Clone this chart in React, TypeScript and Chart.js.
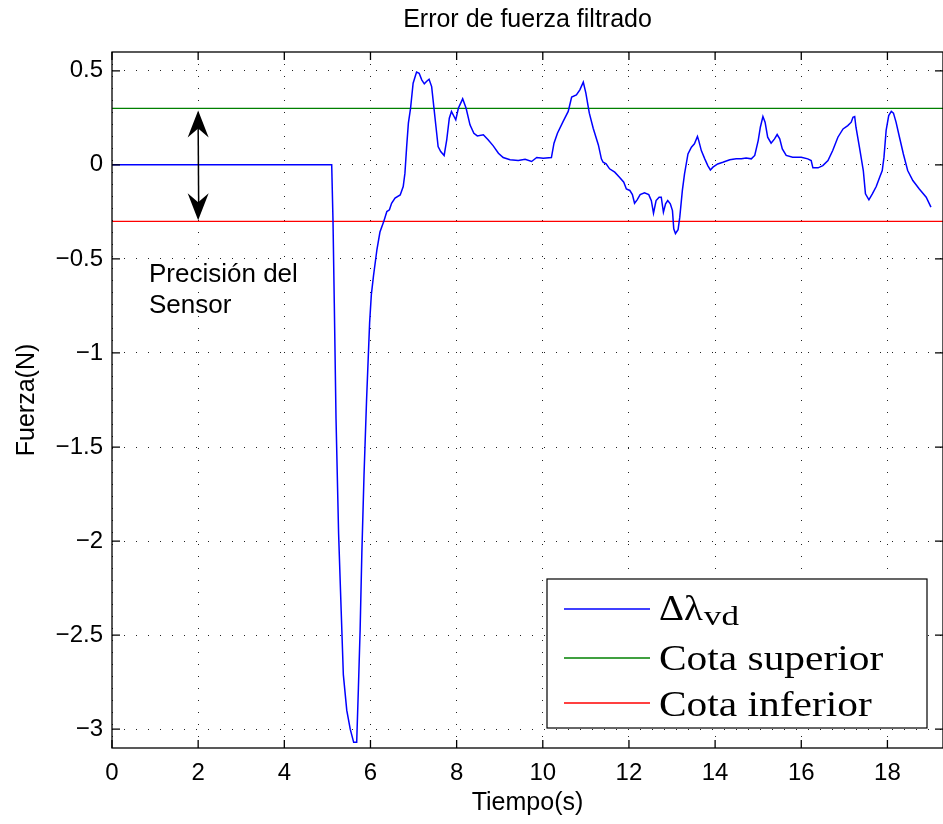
import React, { useEffect, useRef } from 'react';
import { Chart, registerables } from 'chart.js';

Chart.register(...registerables);

// ---------------- data ----------------
const timeSeconds = [
  0, 5.10, 5.13, 5.16, 5.20, 5.26, 5.32, 5.37, 5.45, 5.53,
  5.61, 5.68, 5.72, 5.76, 5.80, 5.85, 5.91, 5.98, 6.02, 6.07,
  6.15, 6.22, 6.31, 6.38, 6.44, 6.49, 6.57, 6.69, 6.76, 6.80,
  6.84, 6.88, 6.93, 6.99, 7.07, 7.13, 7.19, 7.25, 7.30, 7.36,
  7.42, 7.47, 7.52, 7.57, 7.63, 7.71, 7.77, 7.83, 7.88, 7.94,
  7.98, 8.04, 8.14, 8.22, 8.31, 8.40, 8.48, 8.62, 8.73, 8.85,
  8.97, 9.08, 9.24, 9.43, 9.59, 9.74, 9.86, 10.01, 10.20, 10.26,
  10.34, 10.47, 10.59, 10.67, 10.78, 10.86, 10.94, 11.00, 11.08, 11.17,
  11.29, 11.36, 11.40, 11.47, 11.55, 11.67, 11.78, 11.88, 11.94, 12.02,
  12.08, 12.13, 12.19, 12.26, 12.36, 12.46, 12.52, 12.57, 12.63, 12.70,
  12.75, 12.80, 12.85, 12.90, 12.96, 13.01, 13.04, 13.08, 13.14, 13.18,
  13.24, 13.29, 13.37, 13.45, 13.52, 13.59, 13.62, 13.68, 13.76, 13.83,
  13.89, 13.95, 14.06, 14.18, 14.34, 14.49, 14.61, 14.72, 14.84, 14.92,
  15.00, 15.05, 15.11, 15.16, 15.22, 15.30, 15.38, 15.44, 15.50, 15.56,
  15.65, 15.80, 16.00, 16.15, 16.23, 16.27, 16.39, 16.50, 16.62, 16.73,
  16.85, 16.97, 17.08, 17.16, 17.20, 17.24, 17.27, 17.35, 17.44, 17.49,
  17.57, 17.65, 17.74, 17.82, 17.88, 17.92, 17.97, 18.03, 18.09, 18.14,
  18.20, 18.28, 18.37, 18.47, 18.59, 18.74, 18.90, 19.01,
];

const forceError = [
  0, 0, -0.296, -0.735, -1.347, -1.96, -2.37, -2.71, -2.90, -3.0,
  -3.07, -3.07, -2.78, -2.47, -2.06, -1.65, -1.245, -0.84, -0.69, -0.59,
  -0.45, -0.357, -0.30, -0.248, -0.239, -0.204, -0.177, -0.16, -0.115, -0.044,
  0.097, 0.222, 0.30, 0.434, 0.493, 0.487, 0.452, 0.431, 0.443, 0.455,
  0.416, 0.31, 0.204, 0.097, 0.071, 0.05, 0.133, 0.248, 0.284, 0.257,
  0.239, 0.301, 0.351, 0.301, 0.213, 0.168, 0.154, 0.16, 0.133, 0.101,
  0.062, 0.039, 0.027, 0.023, 0.03, 0.018, 0.039, 0.035, 0.039, 0.115,
  0.168, 0.23, 0.284, 0.36, 0.372, 0.399, 0.44, 0.381, 0.275, 0.195,
  0.106, 0.032, 0.014, 0.005, -0.021, -0.039, -0.066, -0.092, -0.128, -0.136,
  -0.158, -0.204, -0.186, -0.158, -0.149, -0.158, -0.19, -0.257, -0.19, -0.172,
  -0.172, -0.252, -0.207, -0.19, -0.207, -0.243, -0.34, -0.365, -0.345, -0.278,
  -0.136, -0.048, 0.058, 0.094, 0.112, 0.151, 0.129, 0.076, 0.032, -0.004,
  -0.027, -0.012, 0.005, 0.014, 0.027, 0.032, 0.032, 0.037, 0.032, 0.05,
  0.129, 0.20, 0.257, 0.227, 0.147, 0.115, 0.138, 0.161, 0.138, 0.085,
  0.05, 0.041, 0.041, 0.032, 0.023, -0.016, -0.016, -0.004, 0.023, 0.076,
  0.147, 0.191, 0.209, 0.227, 0.253, 0.257, 0.20, 0.094, -0.03, -0.154,
  -0.186, -0.154, -0.115, -0.066, -0.03, 0.041, 0.183, 0.262, 0.284, 0.275,
  0.227, 0.147, 0.058, -0.03, -0.083, -0.128, -0.172, -0.225,
];

const upperBound = 0.3;
const lowerBound = -0.3;
const boundSpan = [0, 19.29];

const xTicks = [0, 2, 4, 6, 8, 10, 12, 14, 16, 18];
const yTicks = [0.5, 0, -0.5, -1, -1.5, -2, -2.5, -3];
const xRange = [0, 19.29];
const yRange = [-3.1, 0.6];

const titleText = 'Error de fuerza filtrado';
const xLabelText = 'Tiempo(s)';
const yLabelText = 'Fuerza(N)';
const noteLines = ['Precisión del', 'Sensor'];
const arrowAtX = 2;
const legendNames = ['Δλ', 'Cota superior', 'Cota inferior'];
const legendSub = 'vd';

// ---------------- style ----------------
const SANS = '"Liberation Sans", Arial, Helvetica, sans-serif';
const SERIF = '"Liberation Serif", "Times New Roman", serif';
const BLUE = '#0000ff';
const GREEN = '#008000';
const RED = '#ff0000';

const fmt = (v: number) => (v < 0 ? '\u2212' : '') + String(Math.abs(v));

const decorPlugin = {
  id: 'matlabDecor',
  afterDraw(chart: any) {
    const { ctx, chartArea: a } = chart;
    const xs = chart.scales.x;
    const ys = chart.scales.y;
    ctx.save();

    // frame
    ctx.strokeStyle = '#000';
    ctx.lineWidth = 1.3;
    ctx.strokeRect(a.left, a.top, a.right - a.left, a.bottom - a.top);

    // inner tick marks
    ctx.beginPath();
    xTicks.forEach((v) => {
      const px = xs.getPixelForValue(v);
      ctx.moveTo(px, a.bottom); ctx.lineTo(px, a.bottom - 8);
      ctx.moveTo(px, a.top); ctx.lineTo(px, a.top + 8);
    });
    yTicks.forEach((v) => {
      const py = ys.getPixelForValue(v);
      ctx.moveTo(a.left, py); ctx.lineTo(a.left + 8, py);
      ctx.moveTo(a.right, py); ctx.lineTo(a.right - 8, py);
    });
    ctx.stroke();

    // title and axis labels
    ctx.fillStyle = '#000';
    ctx.font = `25px ${SANS}`;
    ctx.textAlign = 'center';
    ctx.textBaseline = 'alphabetic';
    const cx = (a.left + a.right) / 2;
    ctx.fillText(titleText, cx, 27);
    ctx.fillText(xLabelText, cx, 810);
    ctx.save();
    ctx.translate(34, (a.top + a.bottom) / 2);
    ctx.rotate(-Math.PI / 2);
    ctx.fillText(yLabelText, 0, 0);
    ctx.restore();

    // annotation text
    ctx.textAlign = 'left';
    ctx.font = `26px ${SANS}`;
    ctx.fillText(noteLines[0], 149, 282);
    ctx.fillText(noteLines[1], 149, 313);

    // double arrow
    const ax = xs.getPixelForValue(arrowAtX);
    const yTop = ys.getPixelForValue(upperBound) + 2;
    const yBot = ys.getPixelForValue(lowerBound) - 1;
    ctx.strokeStyle = '#000';
    ctx.lineWidth = 1.5;
    ctx.beginPath();
    ctx.moveTo(ax, yTop + 15);
    ctx.lineTo(ax + 0.5, yBot - 15);
    ctx.stroke();
    const head = (tipY: number, dir: number) => {
      ctx.beginPath();
      ctx.moveTo(ax, tipY);
      ctx.lineTo(ax - 10.5, tipY + dir * 27);
      ctx.lineTo(ax, tipY + dir * 18);
      ctx.lineTo(ax + 10.5, tipY + dir * 27);
      ctx.closePath();
      ctx.fillStyle = '#000';
      ctx.fill();
    };
    head(yTop, 1);
    head(yBot, -1);

    // legend
    const lx = 547, ly = 579, lw = 380, lh = 149;
    ctx.fillStyle = '#fff';
    ctx.fillRect(lx, ly, lw, lh);
    ctx.strokeStyle = '#000';
    ctx.lineWidth = 1.2;
    ctx.strokeRect(lx, ly, lw, lh);
    const rows = [609, 658, 703];
    const cols = chart.data.datasets.map((d: any) => d.borderColor);
    rows.forEach((ry, i) => {
      ctx.strokeStyle = cols[i];
      ctx.lineWidth = 1.3;
      ctx.beginPath();
      ctx.moveTo(564, ry);
      ctx.lineTo(650, ry);
      ctx.stroke();
    });
    ctx.fillStyle = '#000';
    ctx.textAlign = 'left';
    const baselines = [620, 670, 716];
    const drawStretched = (text: string, x: number, y: number, size: number, sx: number) => {
      ctx.save();
      ctx.font = `${size}px ${SERIF}`;
      ctx.translate(x, y);
      ctx.scale(sx, 1);
      ctx.fillText(text, 0, 0);
      const w = ctx.measureText(text).width * sx;
      ctx.restore();
      return w;
    };
    const w0 = drawStretched(legendNames[0], 659, baselines[0], 36, 1.08);
    drawStretched(legendSub, 659 + w0 + 1, baselines[0] + 5, 27, 1.3);
    drawStretched(legendNames[1], 659, baselines[1], 36, 1.15);
    drawStretched(legendNames[2], 659, baselines[2], 36, 1.15);

    ctx.restore();
  },
};

export default function App() {
  const ref = useRef<HTMLCanvasElement | null>(null);

  useEffect(() => {
    if (!ref.current) return;
    const mainData = timeSeconds.map((t, i) => ({ x: t, y: forceError[i] }));
    const upperData = boundSpan.map((t) => ({ x: t, y: upperBound }));
    const lowerData = boundSpan.map((t) => ({ x: t, y: lowerBound }));

    const chart = new Chart(ref.current, {
      type: 'line',
      data: {
        datasets: [
          { label: legendNames[0] + legendSub, data: mainData, borderColor: BLUE, borderWidth: 1.5, pointRadius: 0, tension: 0, fill: false },
          { label: legendNames[1], data: upperData, borderColor: GREEN, borderWidth: 1.3, pointRadius: 0, fill: false },
          { label: legendNames[2], data: lowerData, borderColor: RED, borderWidth: 1.3, pointRadius: 0, fill: false },
        ],
      },
      options: {
        responsive: false,
        animation: false,
        events: [],
        layout: { padding: { top: 52, left: 0, right: 0, bottom: 0 } },
        plugins: { legend: { display: false }, title: { display: false }, tooltip: { enabled: false } },
        scales: {
          x: {
            type: 'linear',
            min: xRange[0],
            max: xRange[1],
            afterFit: (s: any) => { s.height = 76; },
            afterBuildTicks: (s: any) => { s.ticks = xTicks.map((v) => ({ value: v })); },
            ticks: {
              color: '#000',
              font: { family: SANS, size: 24 },
              padding: 11,
              maxRotation: 0,
              autoSkip: false,
              callback: (v: any) => fmt(Number(v)),
            },
            grid: { color: '#222', lineWidth: 1, drawTicks: false },
            border: { display: false, dash: [1, 11] },
          },
          y: {
            type: 'linear',
            min: yRange[0],
            max: yRange[1],
            afterFit: (s: any) => { s.width = 112; },
            afterBuildTicks: (s: any) => { s.ticks = yTicks.map((v) => ({ value: v })); },
            ticks: {
              color: '#000',
              font: { family: SANS, size: 24 },
              padding: 9,
              autoSkip: false,
              callback: (v: any) => fmt(Number(v)),
            },
            grid: { color: '#222', lineWidth: 1, drawTicks: false },
            border: { display: false, dash: [1, 11] },
          },
        },
      },
      plugins: [decorPlugin],
    } as any);
    return () => chart.destroy();
  }, []);

  return (
    <div style={{ position: 'absolute', left: 0, top: 0, width: 943, height: 824, background: '#fff' }}>
      <canvas ref={ref} width={943} height={824} style={{ width: 943, height: 824, display: 'block' }} />
    </div>
  );
}
